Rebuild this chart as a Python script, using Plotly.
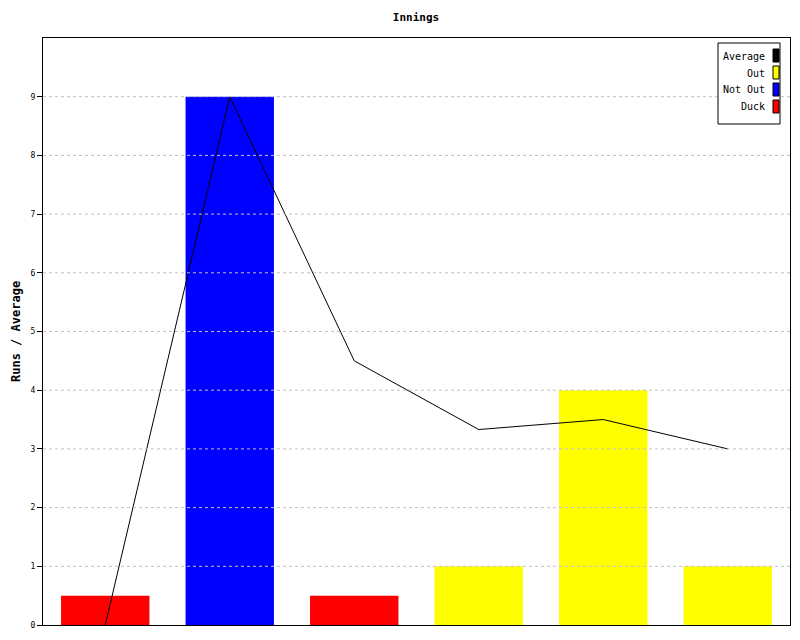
import plotly.graph_objects as go

categories = [1, 2, 3, 4, 5, 6]
duck = [0.5, None, 0.5, None, None, None]
not_out = [None, 9, None, None, None, None]
out = [None, None, None, 1, 4, 1]
average = [0, 9, 4.5, 3.33, 3.5, 3.0]
y_ticks = [0, 1, 2, 3, 4, 5, 6, 7, 8, 9]

legend_items = [("Average", "#000000"), ("Out", "#ffff00"), ("Not Out", "#0000ff"), ("Duck", "#ff0000")]

FONT = "DejaVu Sans Mono"

fig = go.Figure()
fig.add_trace(go.Bar(x=categories, y=duck, marker=dict(color="#ff0000", line=dict(width=0)), name="Duck"))
fig.add_trace(go.Bar(x=categories, y=not_out, marker=dict(color="#0000ff", line=dict(width=0)), name="Not Out"))
fig.add_trace(go.Bar(x=categories, y=out, marker=dict(color="#ffff00", line=dict(width=0)), name="Out"))
fig.add_trace(go.Scatter(x=categories, y=average, mode="lines", line=dict(color="#000000", width=1), name="Average"))

# gridlines drawn above bars, as in the reference
shapes = []
for t in y_ticks[1:]:
    shapes.append(dict(type="line", xref="paper", yref="y", x0=0, x1=1, y0=t, y1=t,
                       line=dict(color="#c0c0c0", width=1, dash="3px,3px"), layer="above"))

# page offset (body margin) compensation
OFF = 8
W, H = 800, 640
PL, PR, PT, PB = 43, 790, 38, 625  # plot area in page pixels
L = PL - OFF
R = W - (PR - OFF)
T = PT - OFF
B = H - (PB - OFF)
pw, ph = PR - PL, PB - PT

def px(x):
    return (x - PL) / pw

def py(y):
    return (PB - y) / ph

shapes.append(dict(type="rect", xref="paper", yref="paper", x0=px(718), x1=px(780), y0=py(124), y1=py(43),
                   line=dict(color="#000000", width=1), fillcolor="#ffffff", layer="above"))
annotations = []
for i, (name, col) in enumerate(legend_items):
    cy = 56 + i * 17
    shapes.append(dict(type="rect", xref="paper", yref="paper", x0=px(773), x1=px(779), y0=py(cy + 6), y1=py(cy - 7),
                       line=dict(color="#000000", width=1), fillcolor=col, layer="above"))
    annotations.append(dict(xref="paper", yref="paper", x=px(767), y=py(cy), text=name, showarrow=False,
                            xanchor="right", yanchor="middle", font=dict(family=FONT, size=10, color="#000000")))

annotations.append(dict(xref="paper", yref="paper", x=px(16), y=py(332), text="<b>Runs / Average</b>",
                        textangle=-90, showarrow=False, xanchor="center", yanchor="middle",
                        font=dict(family=FONT, size=12, color="#000000")))

fig.update_layout(
    width=W, height=H,
    margin=dict(l=L, r=R, t=T, b=B, autoexpand=False),
    paper_bgcolor="#ffffff", plot_bgcolor="#ffffff",
    barmode="overlay", bargap=0.29,
    showlegend=False,
    title=dict(text="<b>Innings</b>", x=(416 - OFF) / W, xanchor="center", y=1 - (17 - OFF) / H,
               yanchor="middle", font=dict(family=FONT, size=11, color="#000000")),
    shapes=shapes, annotations=annotations,
    font=dict(family=FONT, color="#000000"),
)
fig.update_xaxes(range=[0.5, 6.5], showticklabels=False, ticks="", showgrid=False, zeroline=False,
                 showline=True, linecolor="#000000", linewidth=1, mirror=True, automargin=False)
fig.update_yaxes(range=[0, 10], tickvals=y_ticks, ticks="outside", ticklen=5, tickcolor="#000000",
                 tickfont=dict(family=FONT, size=8), showgrid=False, zeroline=False,
                 showline=True, linecolor="#000000", linewidth=1, mirror=True, automargin=False)

fig.write_html("out.html")
